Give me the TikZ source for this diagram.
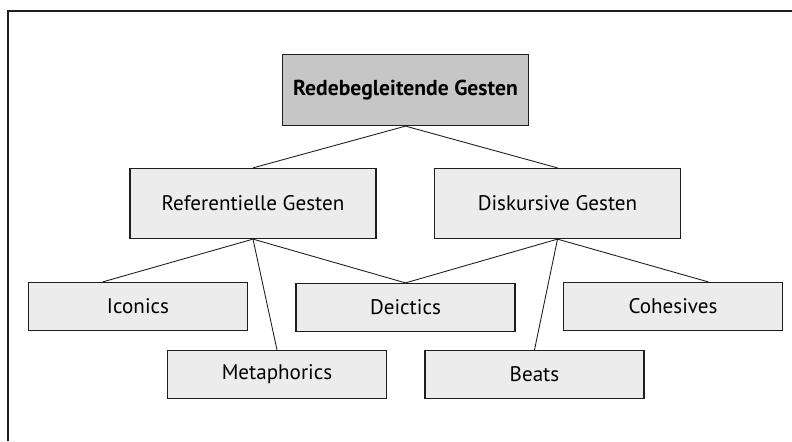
\documentclass[tikz,border=0pt]{standalone}
\usepackage{fontspec}
\setmainfont{PT Sans}
\usepackage{tikz}
\usetikzlibrary{calc}
\definecolor{rootgray}{HTML}{C6C6C6}
\definecolor{boxgray}{HTML}{ECECEC}
\definecolor{linegray}{HTML}{1E1E1E}

\begin{document}
\begin{tikzpicture}[
        font=\fontsize{12}{14}\selectfont,
        rootbox/.style={draw=linegray, rectangle, line width=0.7pt, fill=rootgray, minimum width=4.92cm, minimum height=1.42cm, font=\fontsize{12.3}{14}\selectfont\bfseries},
        groupbox/.style={draw=linegray, rectangle, line width=0.7pt, fill=boxgray, minimum width=4.92cm, minimum height=1.40cm},
        leafbox/.style={draw=linegray, rectangle, line width=0.7pt, fill=boxgray, minimum width=4.38cm, minimum height=0.96cm},
        link/.style={draw=linegray, line width=0.5pt}
    ]
        \useasboundingbox (0, 0) rectangle (15.84, -8.82);
        % Frame
        \draw[line width=0.7pt, linegray] (0.16, -8.82) -- (0.16, -0.22) -- (15.84, -0.22);

        % Nodes
        \node[rootbox] (gesten) at (8.11, -1.80) {Redebegleitende Gesten};
        \node[groupbox] (referentiell) at (5.06, -4.07) {Referentielle Gesten};
        \node[groupbox] (diskursiv) at (11.15, -4.07) {Diskursive Gesten};
        \node[leafbox] (iconics) at (2.76, -6.13) {Iconics};
        \node[leafbox] (deictics) at (8.11, -6.15) {Deictics};
        \node[leafbox] (cohesives) at (13.46, -6.13) {Cohesives};
        \node[leafbox] (metaphorics) at (5.54, -7.49) {Metaphorics};
        \node[leafbox] (beats) at (10.69, -7.49) {Beats};

        % Lines
        \draw[link] (gesten.south) -- (referentiell.north);
        \draw[link] (gesten.south) -- (diskursiv.north);
        \draw[link] (referentiell.south) -- ($(iconics.north west)!0.34!(iconics.north east)$);
        \draw[link] (referentiell.south) -- (metaphorics.north);
        \draw[link] (referentiell.south) -- (deictics.north);
        \draw[link] (diskursiv.south) -- (deictics.north);
        \draw[link] (diskursiv.south) -- (beats.north);
        \draw[link] (diskursiv.south) -- ($(cohesives.north west)!0.66!(cohesives.north east)$);
\end{tikzpicture}
\end{document}
